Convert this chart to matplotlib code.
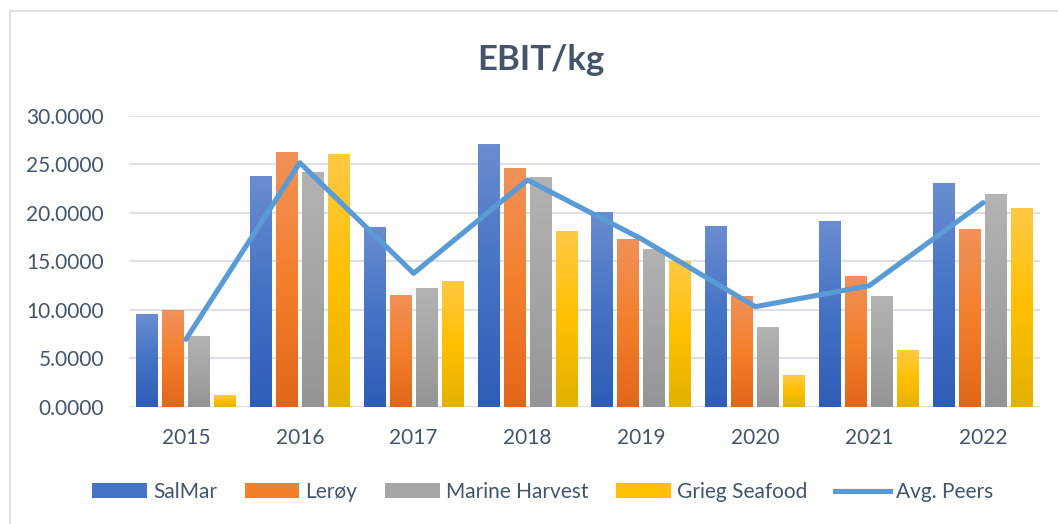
import numpy as np
import matplotlib
matplotlib.use('Agg')
import matplotlib.pyplot as plt
from matplotlib.colors import LinearSegmentedColormap
from matplotlib.patches import Patch
from matplotlib.lines import Line2D

# values
years = ['2015', '2016', '2017', '2018', '2019', '2020', '2021', '2022']
salmar = [9.55, 23.78, 18.52, 27.08, 20.07, 18.63, 19.14, 23.06]
leroy = [9.97, 26.25, 11.51, 24.60, 17.29, 11.41, 13.47, 18.32]
marine_harvest = [7.29, 24.19, 12.23, 23.68, 16.25, 8.21, 11.41, 21.92]
grieg = [1.20, 26.05, 12.96, 18.11, 14.98, 3.26, 5.84, 20.48]
avg_peers = [6.94, 25.15, 13.75, 23.37, 17.30, 10.31, 12.47, 21.03]

series = ['SalMar', 'Lerøy', 'Marine Harvest', 'Grieg Seafood']
# gradient stops (top, middle, bottom) like the Excel fills
grads = [
    ['#6A8DD0', '#4472C4', '#2E5DB6'],
    ['#F0915A', '#F47F2B', '#E1661A'],
    ['#B3B3B3', '#A5A5A5', '#949494'],
    ['#FFC945', '#FFC000', '#E3B100'],
]
text_col = '#44546A'

plt.rcParams['font.family'] = ['Lato', 'DejaVu Sans']

fig = plt.figure(figsize=(10.58, 5.24), dpi=100)
ax = fig.add_axes([0.1219, 0.2239, 0.8611, 0.5553])

x = np.arange(len(years))
width = 0.193
step = 0.228
offsets = (np.arange(4) - 1.5) * step

grad_img = np.linspace(0, 1, 256).reshape(-1, 1)
for i, vals in enumerate([salmar, leroy, marine_harvest, grieg]):
    bars = ax.bar(x + offsets[i], vals, width, color=grads[i][1], zorder=2)
    cmap = LinearSegmentedColormap.from_list('g%d' % i, grads[i])
    for b in bars:
        x0, y0 = b.get_x(), b.get_y()
        w, h = b.get_width(), b.get_height()
        ax.imshow(grad_img, cmap=cmap, aspect='auto', origin='upper',
                  extent=(x0, x0 + w, y0, y0 + h), zorder=2.1)

ax.plot(x, avg_peers, color='#5B9BD5', lw=3.7, zorder=3, solid_capstyle='round')

ax.set_xlim(-0.5, len(years) - 0.5)
ax.set_ylim(0, 30)
ax.set_yticks(np.arange(0, 31, 5))
ax.set_yticklabels(['%.4f' % v for v in np.arange(0, 31, 5)])
ax.set_xticks(x)
ax.set_xticklabels(years)
ax.tick_params(axis='both', length=0, labelsize=15, colors=text_col)
ax.tick_params(axis='y', pad=18)
ax.tick_params(axis='x', pad=15)
ax.grid(axis='y', color='#DDE1E7', lw=1.5, zorder=0)
ax.set_axisbelow(True)
for s in ax.spines.values():
    s.set_visible(False)

fig.text(0.511, 0.885, 'EBIT/kg', ha='center', va='center', fontsize=25,
         fontweight='bold', color=text_col)

handles = [Patch(facecolor=grads[i][1], label=series[i]) for i in range(4)]
handles.append(Line2D([0], [0], color='#5B9BD5', lw=3.7, label='Avg. Peers'))
leg = fig.legend(handles=handles, loc='center', bbox_to_anchor=(0.513, 0.061),
                 ncol=5, frameon=False, fontsize=15, handlelength=2.6,
                 handleheight=0.7, handletextpad=0.3, columnspacing=1.35)
for t in leg.get_texts():
    t.set_color(text_col)

# light chart frame (left and top edges visible in the crop)
fig.add_artist(Line2D([10 / 1058, 10 / 1058], [0, 1 - 11 / 524], color='#DCE1E8', lw=1.5))
fig.add_artist(Line2D([10 / 1058, 1], [1 - 11 / 524, 1 - 11 / 524], color='#DCE1E8', lw=1.5))

fig.savefig('out.png', dpi=100)
